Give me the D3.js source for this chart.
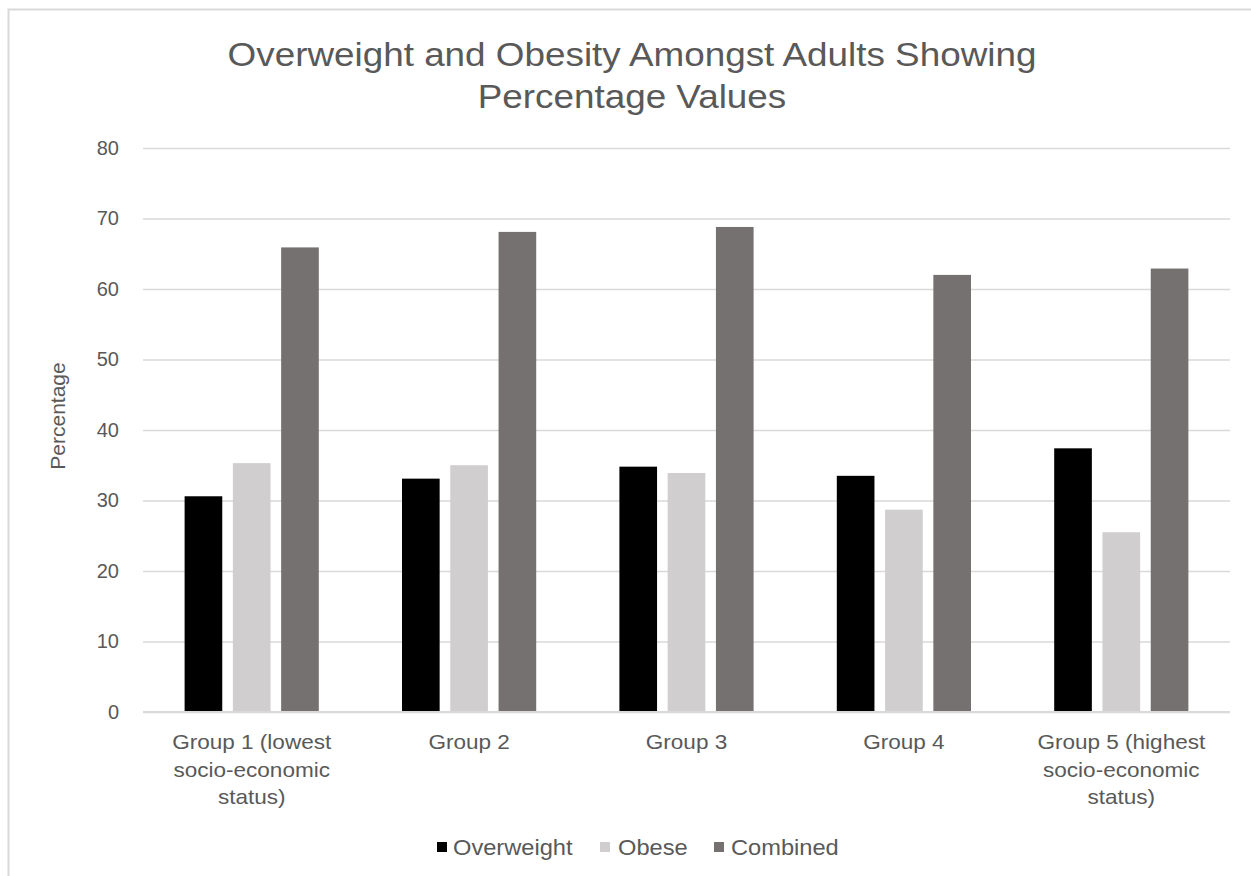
<!DOCTYPE html>
<html>
<head>
<meta charset="utf-8">
<script src="https://cdn.jsdelivr.net/npm/d3@7"></script>
<style>
  html, body { margin: 0; padding: 0; background: #ffffff; }
  svg { display: block; }
  text { font-family: "Liberation Sans", Arial, sans-serif; fill: #595959; }
</style>
</head>
<body>
<svg id="chart" width="1251" height="876"></svg>
<script>
// Grouped bar chart: overweight / obese / combined adults by socio-economic group
const categories = [
  ["Group 1 (lowest", "socio-economic", "status)"],
  ["Group 2"],
  ["Group 3"],
  ["Group 4"],
  ["Group 5 (highest", "socio-economic", "status)"]
];
const seriesNames = ["Overweight", "Obese", "Combined"];
const overweight = [30.6, 33.1, 34.8, 33.5, 37.4];
const obese      = [35.3, 35.0, 33.9, 28.7, 25.5];
const combined   = [65.9, 68.1, 68.8, 62.0, 62.9];
const yTicks = [0, 10, 20, 30, 40, 50, 60, 70, 80];
const seriesColors = ["#000000", "#d0cece", "#767171"];

const values = [overweight, obese, combined];
const W = 1251, H = 876;
const plot = { left: 143, right: 1230, top: 148, bottom: 712 };
const FONT_STRETCH = 1.1; // horizontal widening of label glyphs

const svg = d3.select("#chart");
svg.append("rect").attr("width", W).attr("height", H).attr("fill", "#ffffff");

// chart area frame (top and left edges visible)
svg.append("rect")
  .attr("x", 8.5).attr("y", 9.5).attr("width", 1400).attr("height", 1000)
  .attr("fill", "none").attr("stroke", "#d9d9d9").attr("stroke-width", 2);

// helper: text placed at (x, y), widened horizontally about its anchor
function label(parent, x, y, str, size, anchor) {
  return parent.append("text")
    .attr("transform", `translate(${x},${y}) scale(${FONT_STRETCH},1)`)
    .attr("text-anchor", anchor || "middle")
    .attr("font-size", size)
    .text(str);
}

// title
label(svg, 632, 66, "Overweight and Obesity Amongst Adults Showing", 33.5);
label(svg, 632, 108, "Percentage Values", 33.5);

const groupIdx = d3.range(categories.length);
const x0 = d3.scaleBand().domain(groupIdx).range([plot.left, plot.right]).padding(0);
const inset = 41.6;
const x1 = d3.scaleBand().domain(seriesNames)
  .range([inset, x0.bandwidth() - inset]).paddingInner(0.22);
const y = d3.scaleLinear().domain([0, 80]).range([plot.bottom, plot.top]);

// gridlines + y tick labels via axis
const yAxis = d3.axisLeft(y).tickValues(yTicks).tickSize(-(plot.right - plot.left)).tickPadding(24);
const gy = svg.append("g").attr("transform", `translate(${plot.left},0)`).call(yAxis);
gy.select(".domain").remove();
gy.selectAll(".tick line").attr("stroke", "#d9d9d9").attr("stroke-width", 1.5);
gy.selectAll(".tick text")
  .attr("font-family", "\"Liberation Sans\", Arial, sans-serif")
  .attr("font-size", 20).attr("fill", "#595959");

// bars
const groups = svg.append("g").selectAll("g")
  .data(groupIdx).join("g")
  .attr("transform", i => `translate(${x0(i)},0)`);
groups.selectAll("rect")
  .data(i => seriesNames.map((s, k) => ({ s, k, v: values[k][i] })))
  .join("rect")
  .attr("x", d => x1(d.s))
  .attr("width", x1.bandwidth())
  .attr("y", d => y(d.v))
  .attr("height", d => y(0) - y(d.v))
  .attr("fill", d => seriesColors[d.k]);

// baseline
svg.append("line")
  .attr("x1", plot.left).attr("x2", plot.right)
  .attr("y1", y(0)).attr("y2", y(0))
  .attr("stroke", "#d9d9d9").attr("stroke-width", 2);

// category labels
const xg = svg.append("g");
groupIdx.forEach(i => {
  categories[i].forEach((line, j) => {
    label(xg, x0(i) + x0.bandwidth() / 2, 749 + j * 27.5, line, 20.5);
  });
});

// y axis title
svg.append("text")
  .attr("transform", "translate(65,416) rotate(-90)")
  .attr("text-anchor", "middle")
  .attr("font-size", 21)
  .text("Percentage");

// legend
const legendItems = [
  { name: "Overweight", sx: 437, tx: 453 },
  { name: "Obese", sx: 600, tx: 618 },
  { name: "Combined", sx: 714, tx: 731 }
];
const lg = svg.append("g");
legendItems.forEach((d, i) => {
  lg.append("rect")
    .attr("x", d.sx).attr("y", 842).attr("width", 10).attr("height", 10)
    .attr("fill", seriesColors[i]);
  label(lg, d.tx, 855, d.name, 21.5, "start");
});
</script>
</body>
</html>
